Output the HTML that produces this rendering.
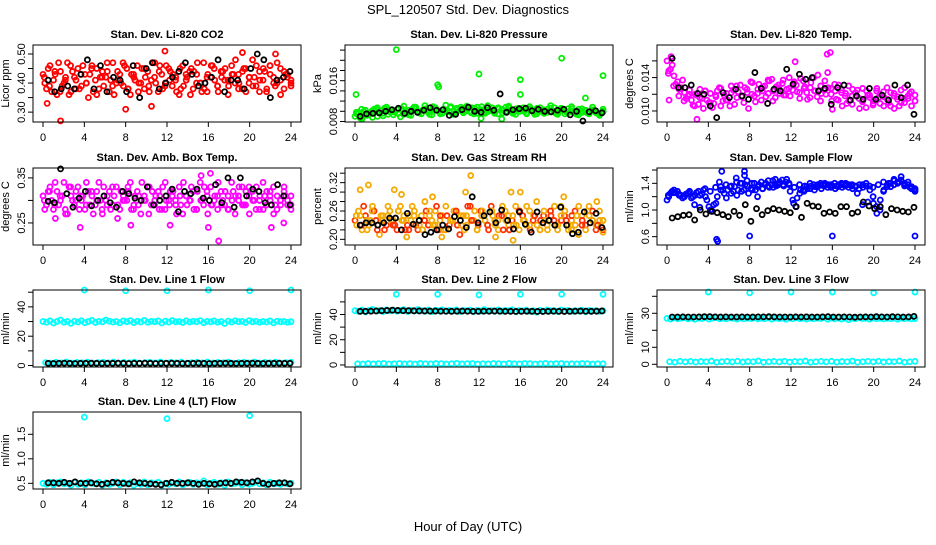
<!DOCTYPE html>
<html><head><meta charset="utf-8"><style>
html,body{margin:0;padding:0;background:#fff;}
svg text{font-family:"Liberation Sans",sans-serif;fill:#000;}
</style></head><body>
<svg id="chart" width="936" height="540" viewBox="0 0 936 540" xmlns="http://www.w3.org/2000/svg">
<text x="468" y="14" font-size="13" text-anchor="middle">SPL_120507  Std. Dev. Diagnostics</text>
<text x="468" y="531" font-size="13" text-anchor="middle">Hour of Day (UTC)</text>
</svg>
<script>
// ---- data arrays ----
const xTicks = [0,4,8,12,16,20,24];
const co2Main = [0.43,0.38,0.46,0.41,0.36,0.44,0.40,0.47,0.37,0.42,0.45,0.39,0.43,0.35,0.46,0.41,0.38,0.44,0.42,0.37,0.47,0.40,0.43,0.39,0.45,0.36,0.42,0.46,0.40,0.38,0.44,0.41,0.47,0.37,0.43,0.40,0.45,0.39,0.42,0.36,0.46,0.41,0.44,0.38,0.43,0.40,0.47,0.37,0.42,0.45,0.39,0.44,0.41,0.36,0.46,0.40,0.43,0.38,0.45,0.42,0.48,0.39,0.44,0.41,0.37,0.46,0.42,0.40,0.45,0.38,0.43,0.41];
const co2Main2 = [0.40,0.45,0.37,0.43,0.47,0.39,0.42,0.36,0.44,0.41,0.38,0.46,0.40,0.43,0.37,0.45,0.42,0.39,0.47,0.41,0.36,0.44,0.40,0.46,0.38,0.43,0.41,0.37,0.45,0.42,0.39,0.47,0.40,0.44,0.38,0.46,0.41,0.43,0.37,0.45,0.39,0.42,0.36,0.44,0.47,0.40,0.38,0.43,0.46,0.41,0.37,0.42,0.45,0.39,0.43,0.48,0.40,0.44,0.37,0.42,0.39,0.46,0.41,0.45,0.38,0.43,0.40,0.47,0.36,0.44,0.42,0.39];
const co2Main3 = [0.42,0.39,0.44,0.37,0.41,0.46,0.38,0.43,0.40,0.45,0.36,0.42,0.44,0.39,0.41,0.47,0.38,0.43,0.40,0.45,0.37,0.42,0.46,0.39,0.44,0.41,0.38,0.43,0.45,0.40,0.37,0.42,0.46,0.39,0.44,0.41,0.43,0.38,0.45,0.40,0.42,0.37,0.44,0.46,0.39,0.41,0.43,0.40];
const co2OutHours = [0.4,1.7,8,10.5,11.8,19.3,22.5];
const co2OutVals = [0.33,0.27,0.31,0.32,0.51,0.505,0.50];
const co2Black = [0.41,0.37,0.38,0.39,0.38,0.43,0.48,0.38,0.46,0.37,0.42,0.41,0.37,0.46,0.35,0.45,0.47,0.38,0.40,0.42,0.44,0.47,0.43,0.39,0.40,0.42,0.48,0.37,0.41,0.41,0.38,0.45,0.50,0.48,0.35,0.41,0.42,0.44];

const presMain = [0.0090,0.0098,0.0085,0.0102,0.0094,0.0088,0.0105,0.0096,0.0091,0.0108,0.0099,0.0093,0.0103,0.0089,0.0110,0.0097,0.0092,0.0106,0.0100,0.0095,0.0111,0.0098,0.0093,0.0107,0.0101,0.0096,0.0112,0.0099,0.0094,0.0106,0.0102,0.0097,0.0110,0.0100,0.0095,0.0108,0.0103,0.0098,0.0111,0.0101,0.0096,0.0107,0.0104,0.0099,0.0110,0.0100,0.0094,0.0106,0.0102,0.0097,0.0109,0.0101,0.0095,0.0107,0.0103,0.0098,0.0111,0.0100,0.0094,0.0106,0.0102,0.0097,0.0109,0.0099,0.0093,0.0105,0.0101,0.0096,0.0108,0.0098,0.0092,0.0104];
const presMain2 = [0.0095,0.0087,0.0100,0.0092,0.0097,0.0104,0.0090,0.0101,0.0106,0.0094,0.0103,0.0098,0.0096,0.0105,0.0100,0.0093,0.0104,0.0108,0.0097,0.0102,0.0105,0.0094,0.0109,0.0103,0.0097,0.0104,0.0100,0.0107,0.0095,0.0103,0.0108,0.0099,0.0104,0.0097,0.0106,0.0101,0.0109,0.0096,0.0103,0.0107,0.0099,0.0105,0.0097,0.0108,0.0102,0.0096,0.0105,0.0100,0.0107,0.0095,0.0103,0.0098,0.0106,0.0100,0.0096,0.0104,0.0099,0.0107,0.0097,0.0103,0.0095,0.0105,0.0100,0.0096,0.0104,0.0098,0.0102,0.0095,0.0101,0.0097,0.0094,0.0099];
const presMain3 = [0.0098,0.0104,0.0093,0.0101,0.0107,0.0096,0.0103,0.0099,0.0105,0.0094,0.0102,0.0108,0.0097,0.0104,0.0100,0.0106,0.0095,0.0103,0.0109,0.0098,0.0104,0.0101,0.0107,0.0096,0.0103,0.0099,0.0106,0.0095,0.0102,0.0108,0.0097,0.0104,0.0100,0.0105,0.0094,0.0102,0.0098,0.0106,0.0096,0.0103,0.0099,0.0105,0.0094,0.0101,0.0097,0.0103,0.0096,0.0100];
const presOutHours = [0.1,4,8,8.1,12,16,16,20,24,12.2,14.2,22.3];
const presOutVals = [0.0133,0.0221,0.0152,0.0148,0.0173,0.0162,0.0133,0.0204,0.0170,0.0086,0.0085,0.0126];
const presBlack = [0.0090,0.0095,0.0096,0.0097,0.0100,0.0103,0.0106,0.0096,0.0100,0.0098,0.0102,0.0107,0.0102,0.0103,0.0092,0.0094,0.0103,0.0108,0.0100,0.0098,0.0107,0.0102,0.0134,0.0098,0.0103,0.0105,0.0106,0.0101,0.0104,0.0100,0.0099,0.0102,0.0104,0.0093,0.0100,0.0081,0.0099,0.0101,0.0097];

const tempMain = [0.0160,0.0150,0.0142,0.0135,0.0128,0.0122,0.0118,0.0113,0.0120,0.0108,0.0115,0.0124,0.0110,0.0104,0.0117,0.0128,0.0112,0.0121,0.0106,0.0125,0.0116,0.0131,0.0110,0.0122,0.0135,0.0118,0.0126,0.0113,0.0130,0.0121,0.0138,0.0116,0.0127,0.0133,0.0119,0.0140,0.0125,0.0131,0.0115,0.0136,0.0122,0.0128,0.0140,0.0117,0.0130,0.0125,0.0146,0.0120,0.0132,0.0113,0.0125,0.0118,0.0130,0.0108,0.0122,0.0115,0.0127,0.0104,0.0119,0.0112,0.0124,0.0109,0.0117,0.0128,0.0106,0.0121,0.0114,0.0125,0.0110,0.0118,0.0123,0.0112];
const tempMain2 = [0.0148,0.0155,0.0132,0.0126,0.0137,0.0115,0.0125,0.0107,0.0119,0.0126,0.0103,0.0113,0.0121,0.0109,0.0124,0.0106,0.0119,0.0113,0.0130,0.0108,0.0123,0.0117,0.0128,0.0103,0.0120,0.0111,0.0132,0.0124,0.0117,0.0136,0.0112,0.0129,0.0121,0.0137,0.0126,0.0118,0.0133,0.0123,0.0139,0.0127,0.0114,0.0134,0.0124,0.0143,0.0121,0.0136,0.0128,0.0112,0.0124,0.0131,0.0106,0.0121,0.0112,0.0126,0.0118,0.0103,0.0113,0.0124,0.0116,0.0109,0.0127,0.0120,0.0106,0.0114,0.0122,0.0103,0.0117,0.0110,0.0128,0.0115,0.0106,0.0119];
const tempMain3 = [0.0145,0.0130,0.0118,0.0112,0.0120,0.0106,0.0116,0.0124,0.0110,0.0119,0.0127,0.0113,0.0122,0.0130,0.0118,0.0126,0.0134,0.0121,0.0129,0.0137,0.0124,0.0131,0.0119,0.0127,0.0135,0.0122,0.0129,0.0116,0.0124,0.0112,0.0120,0.0127,0.0114,0.0122,0.0109,0.0118,0.0125,0.0111,0.0119,0.0107,0.0116,0.0123,0.0110,0.0118,0.0106,0.0115,0.0121,0.0112];
const tempOutHours = [0.4,0.2,2.9,15.8,15.5,16,12.4];
const tempOutVals = [0.0165,0.0113,0.0090,0.0170,0.0168,0.0102,0.0159];
const tempBlack = [0.0163,0.0128,0.0128,0.0131,0.0121,0.0120,0.0106,0.0092,0.0122,0.0116,0.0126,0.0118,0.0114,0.0146,0.0127,0.0109,0.0126,0.0124,0.0150,0.0132,0.0144,0.0138,0.0140,0.0124,0.0127,0.0108,0.0128,0.0131,0.0113,0.0118,0.0114,0.0127,0.0114,0.0119,0.0113,0.0131,0.0116,0.0131,0.0096];

const ambMain = [0.31,0.29,0.33,0.28,0.32,0.30,0.34,0.27,0.31,0.29,0.33,0.30,0.28,0.32,0.31,0.29,0.34,0.27,0.30,0.32,0.29,0.33,0.28,0.31,0.30,0.34,0.29,0.32,0.27,0.31,0.33,0.29,0.30,0.32,0.28,0.34,0.30,0.31,0.29,0.33,0.27,0.31,0.30,0.32,0.28,0.34,0.29,0.31,0.33,0.30,0.28,0.32,0.29,0.31,0.34,0.27,0.30,0.33,0.29,0.31,0.32,0.28,0.30,0.34,0.29,0.31,0.33,0.28,0.30,0.32,0.29,0.31];
const ambMain2 = [0.28,0.32,0.30,0.34,0.29,0.31,0.27,0.33,0.30,0.32,0.28,0.31,0.34,0.29,0.27,0.32,0.30,0.33,0.29,0.28,0.31,0.26,0.32,0.30,0.33,0.28,0.31,0.29,0.34,0.30,0.27,0.32,0.31,0.28,0.33,0.30,0.29,0.32,0.27,0.31,0.34,0.29,0.30,0.28,0.32,0.30,0.33,0.27,0.29,0.31,0.34,0.29,0.32,0.28,0.30,0.31,0.33,0.29,0.32,0.27,0.30,0.33,0.31,0.28,0.32,0.30,0.27,0.31,0.29,0.33,0.30,0.28];
const ambMain3 = [0.30,0.32,0.29,0.31,0.28,0.33,0.30,0.31,0.29,0.32,0.30,0.28,0.31,0.33,0.29,0.30,0.32,0.28,0.31,0.30,0.33,0.29,0.31,0.28,0.32,0.30,0.29,0.31,0.33,0.28,0.30,0.32,0.29,0.31,0.30,0.28,0.32,0.31,0.29,0.33,0.30,0.28,0.31,0.32,0.29,0.30,0.31,0.29];
const ambOutHours = [1.2,3.6,8.5,12.3,16,17,22.1,23.3,15.3,16.2];
const ambOutVals = [0.26,0.24,0.245,0.245,0.24,0.21,0.24,0.25,0.355,0.36];
const ambBlack = [0.298,0.295,0.370,0.315,0.285,0.305,0.320,0.288,0.300,0.310,0.295,0.285,0.320,0.315,0.305,0.300,0.330,0.290,0.300,0.310,0.325,0.275,0.320,0.315,0.325,0.305,0.300,0.335,0.295,0.350,0.285,0.350,0.310,0.325,0.320,0.295,0.290,0.335,0.310,0.290];

const rhMain = [0.24,0.26,0.22,0.25,0.23,0.27,0.24,0.21,0.25,0.23,0.26,0.24,0.22,0.27,0.25,0.23,0.24,0.26,0.22,0.25,0.28,0.23,0.24,0.26,0.22,0.25,0.27,0.23,0.24,0.26,0.21,0.25,0.23,0.27,0.24,0.22,0.26,0.25,0.23,0.27,0.24,0.22,0.25,0.26,0.23,0.24,0.27,0.22,0.25,0.23,0.26,0.24,0.28,0.22,0.25,0.23,0.26,0.24,0.22,0.27,0.25,0.23,0.24,0.26,0.21,0.25,0.23,0.27,0.24,0.22,0.26,0.24];
const rhMain2 = [0.23,0.25,0.27,0.22,0.24,0.26,0.23,0.25,0.22,0.27,0.24,0.23,0.26,0.24,0.22,0.25,0.27,0.23,0.24,0.22,0.26,0.25,0.23,0.27,0.24,0.22,0.25,0.24,0.26,0.23,0.25,0.22,0.27,0.24,0.26,0.23,0.25,0.24,0.22,0.26,0.23,0.25,0.27,0.24,0.22,0.25,0.23,0.26,0.24,0.27,0.22,0.25,0.23,0.24,0.26,0.22,0.25,0.27,0.23,0.24,0.26,0.22,0.25,0.23,0.27,0.24,0.22,0.25,0.26,0.23,0.24,0.22];
const rhMain3 = [0.25,0.23,0.24,0.26,0.22,0.24,0.25,0.23,0.26,0.24,0.22,0.25,0.23,0.24,0.26,0.23,0.25,0.22,0.24,0.26,0.23,0.25,0.24,0.22,0.26,0.23,0.25,0.24,0.22,0.25,0.23,0.26,0.24,0.23,0.25,0.22,0.24,0.26,0.23,0.25,0.24,0.22,0.25,0.23,0.26,0.24,0.23,0.24];
const rhOutHours = [0.5,1.3,3.8,4.5,7.5,10.7,11.2,15.1,16,20.2,23.4,5,8.4,15.3,13.6,24];
const rhOutVals = [0.305,0.315,0.305,0.295,0.29,0.30,0.335,0.30,0.30,0.29,0.28,0.205,0.205,0.198,0.205,0.215];
const rhBlack = [0.230,0.235,0.235,0.230,0.235,0.245,0.245,0.220,0.255,0.232,0.240,0.210,0.215,0.220,0.230,0.222,0.248,0.240,0.225,0.290,0.235,0.250,0.258,0.235,0.262,0.240,0.222,0.258,0.232,0.215,0.258,0.235,0.240,0.230,0.268,0.230,0.212,0.215,0.258,0.235,0.255,0.225];

const sfMain = [1.15,1.25,1.30,1.28,1.22,1.20,1.25,1.18,1.22,1.28,1.24,1.20,1.05,0.98,1.10,1.42,1.30,1.18,1.35,1.28,1.22,1.40,1.30,1.36,1.32,1.40,1.35,1.42,1.38,1.44,1.38,1.46,1.40,1.45,1.42,1.38,1.15,1.05,1.25,1.30,1.35,1.32,1.38,1.35,1.40,1.36,1.34,1.38,1.40,1.35,1.38,1.36,1.34,1.38,1.35,1.32,1.38,1.40,1.36,1.20,1.05,1.00,1.28,1.35,1.40,1.38,1.42,1.45,1.40,1.38,1.32,1.30];
const sfMain2 = [1.20,1.28,1.26,1.22,1.18,1.24,1.28,1.20,1.26,1.22,1.30,1.15,1.00,1.08,1.20,1.35,1.25,1.30,1.25,1.35,1.30,1.28,1.38,1.25,1.40,1.30,1.38,1.32,1.40,1.34,1.44,1.36,1.42,1.38,1.46,1.28,1.10,1.18,1.30,1.28,1.32,1.36,1.30,1.38,1.32,1.40,1.38,1.35,1.32,1.38,1.34,1.40,1.38,1.32,1.36,1.38,1.34,1.36,1.30,1.10,0.95,1.15,1.30,1.38,1.35,1.44,1.40,1.50,1.36,1.42,1.35,1.28];
const sfMain3 = [1.22,1.26,1.24,1.20,1.27,1.08,1.04,1.32,1.28,1.34,1.30,1.38,1.36,1.42,1.40,1.44,1.30,1.20,1.32,1.36,1.34,1.38,1.36,1.40,1.34,1.38,1.36,1.40,1.35,1.37,1.38,1.34,1.36,1.40,1.38,1.36,1.25,1.08,1.12,1.34,1.38,1.42,1.40,1.46,1.42,1.38,1.34,1.32];
const sfOutHours = [4.8,4.9,8,16,24,7.5,7.5,5.3,6.7];
const sfOutVals = [0.56,0.53,0.61,0.61,0.61,1.58,1.52,1.58,1.48];
const sfBlack = [0.88,0.90,0.92,0.93,0.85,1.00,0.94,0.98,0.96,0.93,0.90,0.98,0.92,1.08,0.83,1.02,0.93,0.99,1.02,1.00,0.98,0.96,1.05,0.89,1.10,1.06,1.05,0.95,0.97,0.95,1.05,1.05,0.95,0.97,1.12,1.06,1.02,1.05,0.93,1.02,1.00,0.98,0.97,1.04];

const l1Main = [30,29.5,30.5,29,30,31,29.5,30,28.8,30.2,29.7,30.5,29.2,30,30.8,29.4,30.1,29.8,31,30.3,29.6,30,29.1,30.4,29.9,30.6,29.3,30.2,29.7,30.8,29.5,30.1,29.9,30.4,29,30.3,29.6,30.7,29.8,30,29.4,30.5,29.7,30.2,29.9,30.6,29.2,30.1,29.8,30.4,29.5,30,28.7,30.3,29.6,30.5,29.9,30.1,29.4,30.6,29.8,30.2,29.5,30,29.7,30.4,29.1,30.2,29.8,30,29.5,29.9];
const l1Low = [2,1.6,2.2,1.8,2.4,1.7,2.1,1.9,2.3,1.6,2,2.2,1.8,2.4,1.7,2.1,1.9,2.3,1.6,2,2.2,1.8,2.4,1.7,2.1,1.9,2.3,1.6,2,2.2,1.8,2.4,1.7,2.1,1.9,2.3,1.6,2,2.2,1.8,2.4,1.7,2.1,1.9,2.3,1.6,2,2.2];
const l1OutHours = [4,8,12,16,20,24];
const l1OutVals = [51.5,51,51,51.5,51,51.5];
const l1Black = [1.5,1.4,1.5,1.6,1.5,1.4,1.5,1.5,1.6,1.5,1.4,1.5,1.5,1.6,1.5,1.4,1.5,1.5,1.6,1.5,1.4,1.5,1.5,1.6,1.5,1.4,1.5,1.5,1.6,1.5,1.4,1.5,1.5,1.6,1.5,1.4,1.5,1.5,1.6,1.5,1.4,1.5,1.5,1.6,1.5,1.5];

const l2Main = [43,42.5,43.5,42,43.2,44,42.8,43,42.3,43.6,42.9,43.4,42.6,43.1,43.8,42.4,43.3,42.7,43.9,43,42.5,43.5,42.2,43.4,42.9,43.7,42.6,43.2,42.8,43.6,42.4,43.1,42.9,43.5,42.3,43.3,42.7,43.8,42.9,43,42.5,43.6,42.7,43.2,42.9,43.7,42.3,43.1,42.8,43.4,42.5,43,41.8,43.3,42.6,43.5,42.9,43.1,42.4,43.6,42.8,43.2,42.5,43,42.7,43.4,42.1,43.2,42.8,43,42.5,42.9];
const l2Low = [1,0.8,1.2,0.9,1.1,1.3,0.8,1,1.2,0.9,1.1,0.8,1.3,1,0.9,1.2,1.1,0.8,1,1.3,0.9,1.1,1.2,0.8,1,0.9,1.2,1.1,0.8,1.3,1,0.9,1.2,1.1,0.8,1,1.3,0.9,1.1,1.2,0.8,1,0.9,1.2,1.1,0.8,1,1];
const l2OutHours = [4,8,12,16,20,24];
const l2OutVals = [56,56,55.5,56,56,56];
const l2Black = [42.5,42.5,42.6,42.8,43,43.2,43.4,43.2,43,43,42.9,42.8,42.8,42.7,42.7,42.6,42.6,42.5,42.6,42.7,42.6,42.5,42.5,42.6,42.6,42.7,42.6,42.5,42.5,42.4,42.5,42.6,42.5,42.4,42.4,42.5,42.6,42.5,42.4,42.5,42.6,42.7,42.6,42.5,42.6,42.8];

const l3Main = [27,26.6,27.3,26.8,27.1,27.4,26.7,27,26.5,27.2,26.9,27.3,26.6,27.1,27.4,26.8,27,26.7,27.3,27,26.6,27.2,26.8,27.1,26.9,27.4,26.7,27,26.8,27.3,26.6,27.1,26.9,27.2,26.5,27.1,26.8,27.3,26.9,27,26.6,27.2,26.8,27.1,26.9,27.4,26.5,27.1,26.8,27.2,26.6,27,26.2,27.1,26.8,27.3,26.9,27,26.6,27.2,26.8,27.1,26.7,27,26.8,27.2,26.5,27.1,26.8,27,26.7,26.9];
const l3Low = [1.5,1.2,1.8,1.4,1.7,1.3,1.6,1.5,1.9,1.2,1.5,1.7,1.4,1.8,1.3,1.6,1.5,1.9,1.2,1.5,1.7,1.4,1.8,1.3,1.6,1.5,1.9,1.2,1.5,1.7,1.4,1.8,1.3,1.6,1.5,1.9,1.2,1.5,1.7,1.4,1.8,1.3,1.6,1.5,1.9,1.2,1.5,1.7];
const l3OutHours = [4,8,12,16,20,24];
const l3OutVals = [42.5,42,42.5,42.5,42,42.5];
const l3Black = [27.8,27.8,27.9,27.8,27.8,27.9,28,28,27.9,27.8,27.9,27.8,27.8,27.9,27.8,27.8,27.9,27.9,28,27.9,27.8,27.8,27.8,27.9,27.8,27.9,27.8,27.8,27.9,28,27.8,27.8,27.9,27.8,27.7,27.8,27.9,27.8,28,27.9,27.8,28,27.9,27.8,27.9,28.2];

const l4Main = [0.5,0.48,0.52,0.47,0.51,0.53,0.49,0.5,0.46,0.52,0.48,0.51,0.47,0.53,0.5,0.49,0.52,0.46,0.51,0.48,0.5,0.53,0.47,0.52,0.49,0.51,0.46,0.5,0.48,0.53,0.47,0.51,0.49,0.52,0.46,0.5,0.48,0.51,0.49,0.53,0.47,0.5,0.52,0.48,0.51,0.49,0.55,0.47,0.5,0.52,0.48,0.51,0.46,0.53,0.49,0.5,0.52,0.47,0.51,0.48,0.5,0.53,0.49,0.51,0.47,0.52,0.49,0.5,0.48,0.51,0.49,0.5];
const l4OutHours = [4,12,20];
const l4OutVals = [1.85,1.82,1.88];
const l4Black = [0.51,0.51,0.50,0.52,0.50,0.53,0.50,0.50,0.51,0.49,0.48,0.50,0.52,0.51,0.50,0.49,0.53,0.51,0.50,0.49,0.48,0.47,0.50,0.52,0.50,0.50,0.51,0.50,0.48,0.50,0.49,0.48,0.50,0.51,0.50,0.53,0.52,0.51,0.53,0.55,0.50,0.48,0.50,0.51,0.51,0.49];

// ---- panels ----
const panels = [
 {name:'co2',title:'Stan. Dev. Li-820 CO2',ylab:'Licor ppm',col:0,row:0,ymin:0.266,ymax:0.531,ticks:[0.30,0.35,0.40,0.45,0.50],labels:['0.30','','0.40','','0.50'],color:'#ff0000',main:[co2Main,co2Main2,co2Main3],oh:co2OutHours,ov:co2OutVals,black:co2Black},
 {name:'pressure',title:'Stan. Dev. Li-820 Pressure',ylab:'kPa',col:1,row:0,ymin:0.0079,ymax:0.0230,ticks:[0.008,0.010,0.012,0.014,0.016,0.018,0.020,0.022],labels:['0.008','','','','0.016','','',''],color:'#00ee00',main:[presMain,presMain2,presMain3],oh:presOutHours,ov:presOutVals,black:presBlack},
 {name:'temp',title:'Stan. Dev. Li-820 Temp.',ylab:'degrees C',col:2,row:0,ymin:0.00868,ymax:0.0179,ticks:[0.010,0.012,0.014,0.016],labels:['0.010','','0.014',''],color:'#ff00ff',main:[tempMain,tempMain2,tempMain3],oh:tempOutHours,ov:tempOutVals,black:tempBlack},
 {name:'amb-box',title:'Stan. Dev. Amb. Box Temp.',ylab:'degrees C',col:0,row:1,ymin:0.201,ymax:0.372,ticks:[0.25,0.30,0.35],labels:['0.25','','0.35'],color:'#ff00ff',main:[ambMain,ambMain2,ambMain3],oh:ambOutHours,ov:ambOutVals,black:ambBlack},
 {name:'gas-rh',title:'Stan. Dev. Gas Stream RH',ylab:'percent',col:1,row:1,ymin:0.188,ymax:0.351,ticks:[0.20,0.22,0.24,0.26,0.28,0.30,0.32,0.34],labels:['0.20','','','0.26','','','0.32',''],color:'#f5a800',main:[rhMain,rhMain2,rhMain3],oh:rhOutHours,ov:rhOutVals,black:rhBlack,alt:'#ff3000'},
 {name:'sample-flow',title:'Stan. Dev. Sample Flow',ylab:'ml/min',col:2,row:1,ymin:0.475,ymax:1.63,ticks:[0.6,0.8,1.0,1.2,1.4,1.6],labels:['0.6','','1.0','','1.4',''],color:'#0000ff',main:[sfMain,sfMain2,sfMain3],oh:sfOutHours,ov:sfOutVals,black:sfBlack},
 {name:'line1-flow',title:'Stan. Dev. Line 1 Flow',ylab:'ml/min',col:0,row:2,ymin:-1,ymax:51.5,ticks:[0,10,20,30,40,50],labels:['0','','20','','40',''],color:'#00ffff',main:[l1Main,l1Low],oh:l1OutHours,ov:l1OutVals,black:l1Black},
 {name:'line2-flow',title:'Stan. Dev. Line 2 Flow',ylab:'ml/min',col:1,row:2,ymin:-1.6,ymax:59.4,ticks:[0,10,20,30,40,50],labels:['0','','20','','40',''],color:'#00ffff',main:[l2Main,l2Low],oh:l2OutHours,ov:l2OutVals,black:l2Black},
 {name:'line3-flow',title:'Stan. Dev. Line 3 Flow',ylab:'ml/min',col:2,row:2,ymin:-1.6,ymax:43.7,ticks:[0,10,20,30,40],labels:['0','10','','30',''],color:'#00ffff',main:[l3Main,l3Low],oh:l3OutHours,ov:l3OutVals,black:l3Black},
 {name:'line4-flow',title:'Stan. Dev. Line 4 (LT) Flow',ylab:'ml/min',col:0,row:3,ymin:0.384,ymax:1.955,ticks:[0.5,1.0,1.5],labels:['0.5','1.0','1.5'],color:'#00ffff',main:[l4Main],oh:l4OutHours,ov:l4OutVals,black:l4Black}
];

const NS='http://www.w3.org/2000/svg';
const svg=document.getElementById('chart');
const BOX_W=268, BOX_H=77;
const colLeft=[33,345,657], rowTop=[45,168,290,412];
const seriesOffset=[0,0.5,0.25];
function mk(tag,attrs,parent){const e=document.createElementNS(NS,tag);for(const k in attrs)e.setAttribute(k,attrs[k]);parent.appendChild(e);return e;}

panels.forEach(p=>{
  const L=colLeft[p.col], T=rowTop[p.row], B=T+BOX_H, R=L+BOX_W;
  const xs=h=>L+10+h*248/24;
  const ys=v=>B-(v-p.ymin)/(p.ymax-p.ymin)*BOX_H;
  const g=mk('g',{},svg);
  
  
  const t=mk('text',{x:(L+R)/2,y:T-7,'font-size':11,'font-weight':'bold','text-anchor':'middle'},g);
  t.textContent=p.title;
  
  
  const yl=mk('text',{x:0,y:0,'font-size':11,'text-anchor':'middle',transform:`translate(${L-24},${(T+B)/2}) rotate(-90)`},g);
  yl.textContent=p.ylab;
  
  
  const pts=mk('g',{fill:'none','stroke-width':1.8},g);
  
  
  p.main.forEach((arr,si)=>{
    const n=arr.length, off=seriesOffset[si];
    arr.forEach((v,i)=>{
      const h=(i+off)*24/(n-1+off);
      const c=mk('circle',{cx:xs(Math.min(h,24)),cy:ys(v),r:2.5,stroke:(p.alt&&(i+si)%3===0)?p.alt:p.color},pts);
      
      
    });
  });
  p.oh.forEach((h,i)=>{
    const c=mk('circle',{cx:xs(h),cy:ys(p.ov[i]),r:2.5,stroke:p.color},pts);
    
    
  });
  const nb=p.black.length;
  p.black.forEach((v,i)=>{
    const h=0.5+i*23.4/(nb-1);
    const c=mk('circle',{cx:xs(h),cy:ys(v),r:2.5,stroke:'#000'},pts);
    
    
  });
  const bx=mk('rect',{x:L,y:T,width:BOX_W,height:BOX_H,fill:'none',stroke:'#000','stroke-width':1},g);
  
  
  const xa=mk('g',{},g);
  
  
  xTicks.forEach(tv=>{
    mk('line',{x1:xs(tv),x2:xs(tv),y1:B,y2:B+5,stroke:'#000'},xa);
    const tl=mk('text',{x:xs(tv),y:B+19,'font-size':11,'text-anchor':'middle'},xa);
    tl.textContent=String(tv);
    
    
  });
  const ya=mk('g',{},g);
  
  
  p.ticks.forEach((tv,i)=>{
    mk('line',{x1:L,x2:L-5,y1:ys(tv),y2:ys(tv),stroke:'#000'},ya);
    if(p.labels[i]){
      const tl=mk('text',{x:0,y:0,'font-size':11,'text-anchor':'middle',transform:`translate(${L-8},${ys(tv)}) rotate(-90)`},ya);
      tl.textContent=p.labels[i];
      
      
    }
  });
});
</script>
</body></html>
